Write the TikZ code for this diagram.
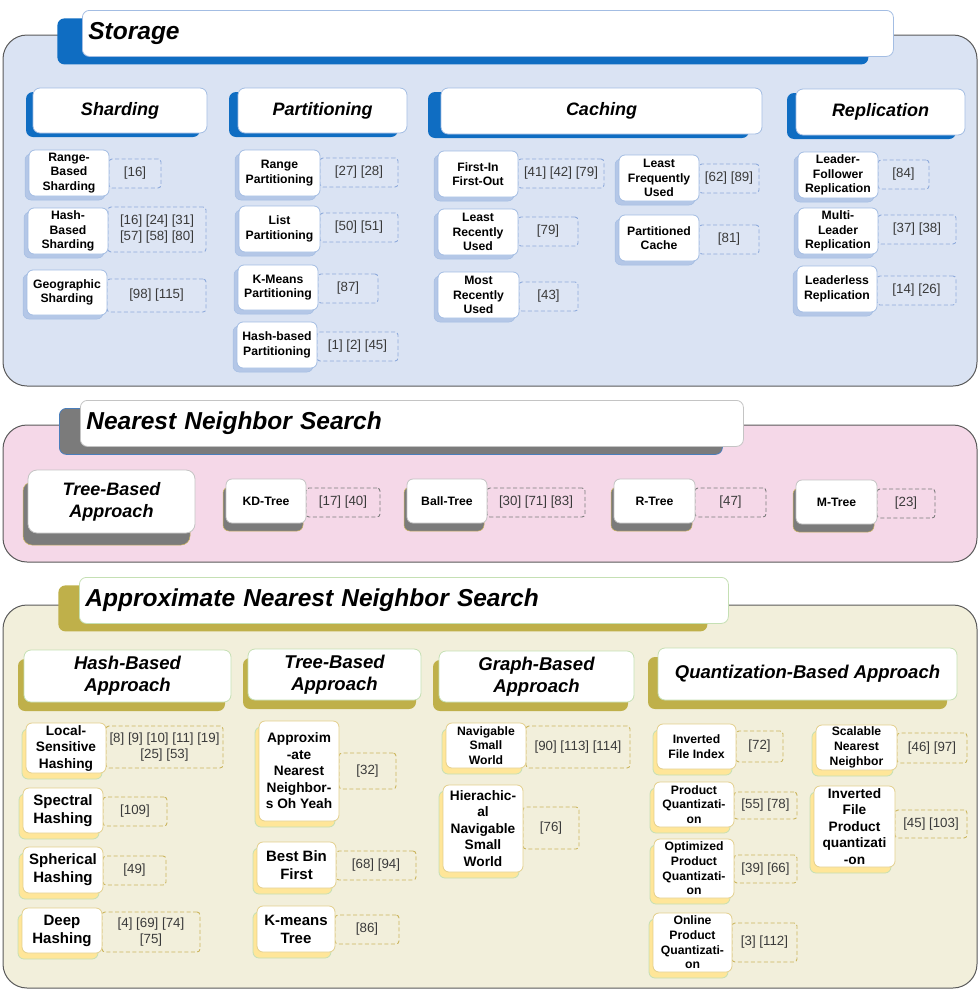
\documentclass[tikz,border=0pt]{standalone}
\usepackage{fontspec}
\setmainfont{Liberation Sans}
\usetikzlibrary{shadows}
\definecolor{pdraw}{HTML}{5A5A5A}
\definecolor{stpanel}{HTML}{DAE3F3}
\definecolor{stblue}{HTML}{0F6DC2}
\definecolor{stlight}{HTML}{B4C7E7}
\definecolor{stborder}{HTML}{A3BDE3}
\definecolor{stref}{HTML}{8EAADB}
\definecolor{streffill}{HTML}{DDE5F4}
\definecolor{nnpanel}{HTML}{F5D8E8}
\definecolor{nngray}{HTML}{7B7B7B}
\definecolor{nnedge}{HTML}{4A7EBB}
\definecolor{nnborder}{HTML}{C4C4C4}
\definecolor{anpanel}{HTML}{F2EFDB}
\definecolor{anolive}{HTML}{BFB04A}
\definecolor{anyellow}{HTML}{FFE699}
\definecolor{angreen}{HTML}{C5E0B4}
\definecolor{anborder}{HTML}{E3CF8C}
\definecolor{anref}{HTML}{CBB55E}
\definecolor{reftext}{HTML}{3A3A3A}
\newcommand\myfT{\fontsize{24.5}{29}\selectfont\bfseries\itshape}
\newcommand\myfH{\fontsize{18}{22}\selectfont\bfseries\itshape}
\newcommand\myfHa{\fontsize{18.5}{22}\selectfont\bfseries\itshape}
\newcommand\myfN{\fontsize{12.2}{14.7}\selectfont\bfseries}
\newcommand\myfM{\fontsize{13.7}{16.5}\selectfont\bfseries}
\newcommand\myfB{\fontsize{15}{18}\selectfont\bfseries}
\newcommand\myfR{\fontsize{13.3}{16}\selectfont}
\newcommand\mk[7]{\node[#1,minimum width={#5-#3},minimum height={#6-#4}] (#2) at ({(#3+#5)/2},{(#4+#6)/2}) {#7};}
\tikzset{
  panel/.style={draw=pdraw, line width=1pt, rounded corners=24pt},
  titlebox/.style={fill=white, rounded corners=7pt, anchor=north west, inner xsep=6pt, inner ysep=0pt, align=left, font=\myfT, text=black},
  sttitle/.style={titlebox, draw=stborder, line width=0.8pt, general shadow={fill=stblue, shadow xshift=-25pt, shadow yshift=-8pt}},
  nntitle/.style={titlebox, draw=nnborder, line width=0.8pt, general shadow={fill=nngray, draw=nnedge, line width=0.8pt, shadow xshift=-21pt, shadow yshift=-8pt}},
  antitle/.style={titlebox, draw=angreen, line width=0.8pt, general shadow={fill=anolive, shadow xshift=-21pt, shadow yshift=-8pt}},
  basebox/.style={fill=white, align=center, inner sep=1pt, text=black},
  sthead/.style={basebox, draw=stborder, line width=0.8pt, rounded corners=7pt, font=\myfH, general shadow={fill=stblue, shadow xshift=#1, shadow yshift=-4pt}},
  anhead/.style={basebox, draw=angreen, line width=0.8pt, rounded corners=7pt, font=\myfHa, general shadow={fill=anolive, shadow xshift=#1, shadow yshift=-9pt}},
  stnode/.style={basebox, draw=stborder, line width=0.8pt, rounded corners=6pt, font=\myfN, general shadow={fill=stlight, draw=stborder, line width=0.5pt, shadow xshift=-4pt, shadow yshift=-4pt}},
  nnnode/.style={basebox, draw=nnborder, line width=0.8pt, rounded corners=6pt, font=\myfN, general shadow={fill=nngray, draw=anref, line width=0.5pt, shadow xshift=-3pt, shadow yshift=-8pt}},
  nnbig/.style={basebox, draw=nnborder, line width=0.8pt, rounded corners=9pt, font=\myfH, general shadow={fill=nngray, draw=anref, line width=0.5pt, shadow xshift=-5pt, shadow yshift=-12pt}},
  annode/.style={basebox, draw=anborder, line width=0.8pt, rounded corners=6pt, font=#1, general shadow={fill=anyellow, draw=angreen, line width=0.8pt, shadow xshift=-4pt, shadow yshift=-6pt}},
  refbox/.style={line width=0.9pt, dash pattern=on 4pt off 2.5pt, rounded corners=3pt, align=center, inner sep=1pt, font=\myfR, text=reftext},
  stref/.style={refbox, draw=stref, fill=streffill},
  nnref/.style={refbox, draw=nngray, fill=nnpanel},
  anref/.style={refbox, draw=anref, fill=anpanel},
}
\begin{document}
\begin{tikzpicture}[x=1pt,y=-1pt]
\useasboundingbox (0,0) rectangle (980,991);
% ================= Storage =================
\path[panel, fill=stpanel] (3,35) rectangle (977,386);
\node[sttitle, minimum width=811, minimum height=46, text width=799] (stT) at (82,10) {Storage};
\mk{sthead=-7pt}{shH}{33}{88}{207}{133}{Sharding}
\mk{sthead=-9pt}{ptH}{238}{88}{407}{133}{Partitioning}
\mk{sthead=-13pt}{caH}{441}{88}{762}{134}{Caching}
\mk{sthead=-9pt}{rpH}{796}{89}{965}{135}{Replication}
% sharding
\mk{stref}{rbsR}{109}{159}{161}{188}{[16]}
\mk{stnode}{rbs}{29}{150}{109}{196}{Range-\\Based\\Sharding}
\mk{stref}{hbsR}{108}{207}{206}{252}{[16] [24] [31]\\{}[57] [58] [80]}
\mk{stnode}{hbs}{28}{208}{108}{254}{Hash-\\Based\\Sharding}
\mk{stref}{gsR}{107}{279}{206}{312}{[98] [115]}
\mk{stnode}{gs}{27}{270}{107}{315}{Geographic\\Sharding}
% partitioning
\mk{stref}{rpR}{320}{158}{398}{187}{[27] [28]}
\mk{stnode}{rp}{239}{150}{320}{196}{Range\\Partitioning}
\mk{stref}{lpR}{320}{213}{398}{242}{[50] [51]}
\mk{stnode}{lp}{239}{206}{320}{252}{List\\Partitioning}
\mk{stref}{kpR}{318}{274}{378}{303}{[87]}
\mk{stnode}{kp}{238}{265}{318}{310}{K-Means\\Partitioning}
\mk{stref}{hpR}{317}{332}{398}{361}{[1] [2] [45]}
\mk{stnode}{hp}{237}{322}{317}{368}{Hash-based\\Partitioning}
% caching
\mk{stref}{fifoR}{518}{159}{604}{188}{[41] [42] [79]}
\mk{stnode}{fifo}{438}{151}{518}{197}{First-In\\First-Out}
\mk{stref}{lruR}{518}{217}{578}{246}{[79]}
\mk{stnode}{lru}{438}{209}{518}{255}{Least\\Recently\\Used}
\mk{stref}{mruR}{519}{282}{578}{311}{[43]}
\mk{stnode}{mru}{438}{272}{519}{318}{Most\\Recently\\Used}
\mk{stref}{lfuR}{699}{164}{759}{193}{[62] [89]}
\mk{stnode}{lfu}{619}{155}{699}{201}{Least\\Frequently\\Used}
\mk{stref}{pcR}{699}{225}{759}{254}{[81]}
\mk{stnode}{pc}{619}{215}{699}{261}{Partitioned\\Cache}
% replication
\mk{stref}{lfR}{878}{160}{929}{189}{[84]}
\mk{stnode}{lf}{798}{152}{878}{198}{Leader-\\Follower\\Replication}
\mk{stref}{mlR}{878}{215}{956}{244}{[37] [38]}
\mk{stnode}{ml}{798}{208}{878}{254}{Multi-\\Leader\\Replication}
\mk{stref}{llR}{877}{276}{956}{305}{[14] [26]}
\mk{stnode}{ll}{797}{266}{877}{312}{Leaderless\\Replication}
% ================= Nearest Neighbor Search =================
\path[panel, fill=nnpanel] (3,425) rectangle (977,562);
\node[nntitle, minimum width=663, minimum height=46, text width=651] (nnT) at (80,400) {Nearest Neighbor Search};
\mk{nnbig}{nnTB}{28}{470}{195}{533}{Tree-Based\\Approach}
\mk{nnref}{kdR}{306}{488}{380}{517}{[17] [40]}
\mk{nnnode}{kd}{226}{479}{306}{523}{KD-Tree}
\mk{nnref}{btR}{487}{488}{585}{517}{[30] [71] [83]}
\mk{nnnode}{bt}{407}{479}{487}{523}{Ball-Tree}
\mk{nnref}{rtR}{695}{488}{766}{517}{[47]}
\mk{nnnode}{rt}{614}{479}{695}{523}{R-Tree}
\mk{nnref}{mtR}{877}{489}{935}{518}{[23]}
\mk{nnnode}{mt}{796}{480}{877}{524}{M-Tree}
% ================= Approximate Nearest Neighbor Search =================
\path[panel, fill=anpanel] (3,605) rectangle (977,988);
\node[antitle, minimum width=649, minimum height=46, text width=637] (anT) at (79,577) {Approximate Nearest Neighbor Search};
\mk{anhead=-6pt}{hbH}{24}{650}{231}{702}{Hash-Based\\Approach}
\mk{anhead=-5pt}{tbH}{248}{649}{421}{700}{Tree-Based\\Approach}
\mk{anhead=-6pt}{gbH}{439}{651}{634}{702}{Graph-Based\\Approach}
\mk{anhead=-10pt}{qbH}{658}{648}{957}{700}{Quantization-Based Approach}
% hash
\mk{anref}{lshR}{106}{726}{223}{768}{[8] [9] [10] [11] [19]\\{}[25] [53]}
\mk{annode=\myfM}{lsh}{26}{723}{106}{773}{Local-\\Sensitive\\Hashing}
\mk{anref}{specR}{103}{797}{167}{826}{[109]}
\mk{annode=\myfB}{spec}{23}{788}{103}{833}{Spectral\\Hashing}
\mk{anref}{spheR}{103}{856}{166}{885}{[49]}
\mk{annode=\myfB}{sphe}{23}{847}{103}{893}{Spherical\\Hashing}
\mk{anref}{deepR}{102}{912}{200}{952}{[4] [69] [74]\\{}[75]}
\mk{annode=\myfB}{deep}{22}{908}{102}{953}{Deep\\Hashing}
% tree
\mk{anref}{annoyR}{339}{753}{396}{789}{[32]}
\mk{annode=\myfM}{annoy}{259}{721}{339}{821}{Approxim\\-ate\\Nearest\\Neighbor-\\s Oh Yeah}
\mk{anref}{bbfR}{336}{851}{416}{880}{[68] [94]}
\mk{annode=\myfB}{bbf}{257}{842}{336}{888}{Best Bin\\First}
\mk{anref}{kmtR}{335}{915}{399}{944}{[86]}
\mk{annode=\myfB}{kmt}{257}{906}{335}{952}{K-means\\Tree}
% graph
\mk{anref}{nswR}{526}{726}{630}{768}{[90] [113] [114]}
\mk{annode=\myfN}{nsw}{446}{723}{526}{768}{Navigable\\Small\\World}
\mk{anref}{hnswR}{523}{807}{579}{849}{[76]}
\mk{annode=\myfM}{hnsw}{443}{785}{523}{872}{Hierachic-\\al\\Navigable\\Small\\World}
% quantization
\mk{anref}{ifiR}{736}{731}{783}{762}{[72]}
\mk{annode=\myfN}{ifi}{657}{724}{736}{769}{Inverted\\File Index}
\mk{anref}{pqR}{734}{792}{797}{819}{[55] [78]}
\mk{annode=\myfN}{pq}{654}{782}{734}{827}{Product\\Quantizati-\\on}
\mk{anref}{opqR}{734}{855}{797}{883}{[39] [66]}
\mk{annode=\myfN}{opq}{654}{839}{734}{898}{Optimized\\Product\\Quantizati-\\on}
\mk{anref}{olpqR}{732}{923}{797}{962}{[3] [112]}
\mk{annode=\myfN}{olpq}{653}{913}{732}{972}{Online\\Product\\Quantizati-\\on}
\mk{anref}{snnR}{897}{733}{967}{763}{[46] [97]}
\mk{annode=\myfN}{snn}{816}{725}{897}{770}{Scalable\\Nearest\\Neighbor}
\mk{anref}{ivfR}{895}{810}{967}{838}{[45] [103]}
\mk{annode=\myfM}{ivf}{814}{786}{895}{867}{Inverted\\File\\Product\\quantizati\\-on}
\end{tikzpicture}
\end{document}
